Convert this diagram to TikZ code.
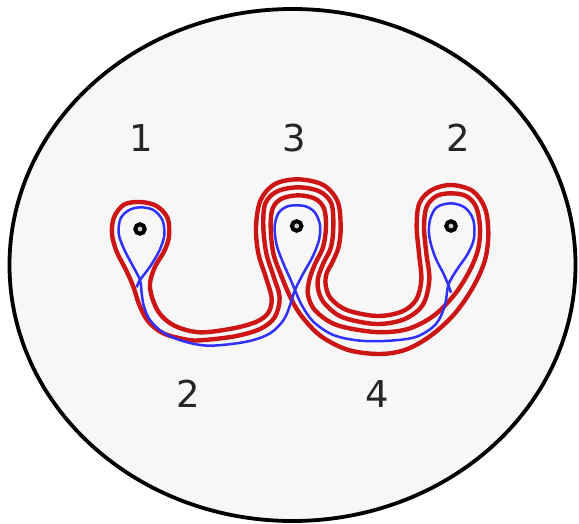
\documentclass[tikz,border=0pt]{standalone}
\usepackage{fontspec}
\setmainfont{DejaVu Sans}
\definecolor{curvered}{RGB}{204,22,22}
\definecolor{curveblue}{RGB}{48,48,255}
\definecolor{diskfill}{RGB}{247,247,247}
\begin{document}
\begin{tikzpicture}[x=1pt,y=-1pt,
  redline/.style={draw=curvered, line width=4.4pt},
  blueline/.style={draw=curveblue, line width=2.5pt},
  puncture/.style={circle, draw=black, line width=4pt, fill=white!80!black, inner sep=0pt, minimum size=9.5pt},
  lab/.style={font=\fontsize{37}{40}\selectfont, text=black!85, inner sep=0pt}]
\useasboundingbox (0,0) rectangle (579,524);
\draw[line width=3.8pt, fill=diskfill] (292.5,265) ellipse [x radius=283pt, y radius=256pt];
\begin{scope}[shift={(100,170)}, x=0.33333pt, y=-0.33333pt]
\draw[redline] plot[smooth cycle, tension=0.55] coordinates {
(595,28) (525,42) (482,90) (468,170) (475,250) (497,320) (515,385) (505,428) (470,455) (400,475) (300,487) (225,468) (180,432) (157,385) (150,340) (165,290) (192,245) (207,200) (203,145) (170,108) (120,96) (72,104) (42,142) (36,192) (50,245) (78,300) (100,350) (118,405) (145,455) (190,490) (255,508) (300,511) (404,499) (480,477) (524,442) (539,383) (521,320) (499,250) (490,170) (496,100) (532,64) (595,52) (658,64) (694,100) (700,170) (693,232) (670,280) (654,325) (656,365) (676,403) (728,442) (828,462) (912,448) (968,405) (988,330) (979,250) (972,170) (980,110) (1010,78) (1053,70) (1098,78) (1128,110) (1140,170) (1135,235) (1110,300) (1065,372) (1000,438) (920,478) (825,486) (710,465) (646,422) (624,375) (628,330) (645,282) (669,232) (678,170) (672,115) (645,86) (595,76) (545,86) (518,115) (512,170) (520,250) (545,320) (575,390) (610,445) (665,500) (745,540) (840,552) (920,538) (995,495) (1065,430) (1120,350) (1155,270) (1165,190) (1155,115) (1118,63) (1053,45) (995,60) (958,100) (950,170) (957,250) (964,330) (948,390) (905,425) (830,438) (740,420) (692,385) (677,345) (680,310) (698,275) (716,230) (722,170) (713,95) (670,45)};
\draw[blueline] plot[smooth, tension=0.55] coordinates {
(110,352) (120,330) (150,290) (178,242) (193,195) (187,150) (160,120) (122,112) (88,120) (62,145) (56,190) (72,237) (97,285) (120,330) (125,370) (132,410) (150,450) (190,488) (255,515) (330,527) (440,515) (510,490) (552,448) (572,400) (585,360) (610,310) (638,260) (657,210) (660,165) (645,128) (620,110) (590,106) (560,110) (535,130) (524,170) (530,225) (550,280) (570,325) (585,360) (605,405) (640,455) (700,495) (780,512) (870,512) (950,500) (1008,462) (1035,405) (1045,345) (1070,300) (1103,252) (1122,205) (1120,150) (1095,113) (1053,100) (1010,112) (990,150) (988,200) (1005,260) (1030,310) (1045,345) (1053,368)};
\end{scope}
\node[puncture] (p1) at (140,229) {};
\node[puncture] (p3) at (296.7,226) {};
\node[puncture] (p2) at (451,226) {};
\node[lab] (l1) at (141,138) {1};
\node[lab] (l3) at (294,138) {3};
\node[lab] (l2) at (458,138) {2};
\node[lab] (b2) at (188,394) {2};
\node[lab] (b4) at (377,394) {4};
\end{tikzpicture}
\end{document}
